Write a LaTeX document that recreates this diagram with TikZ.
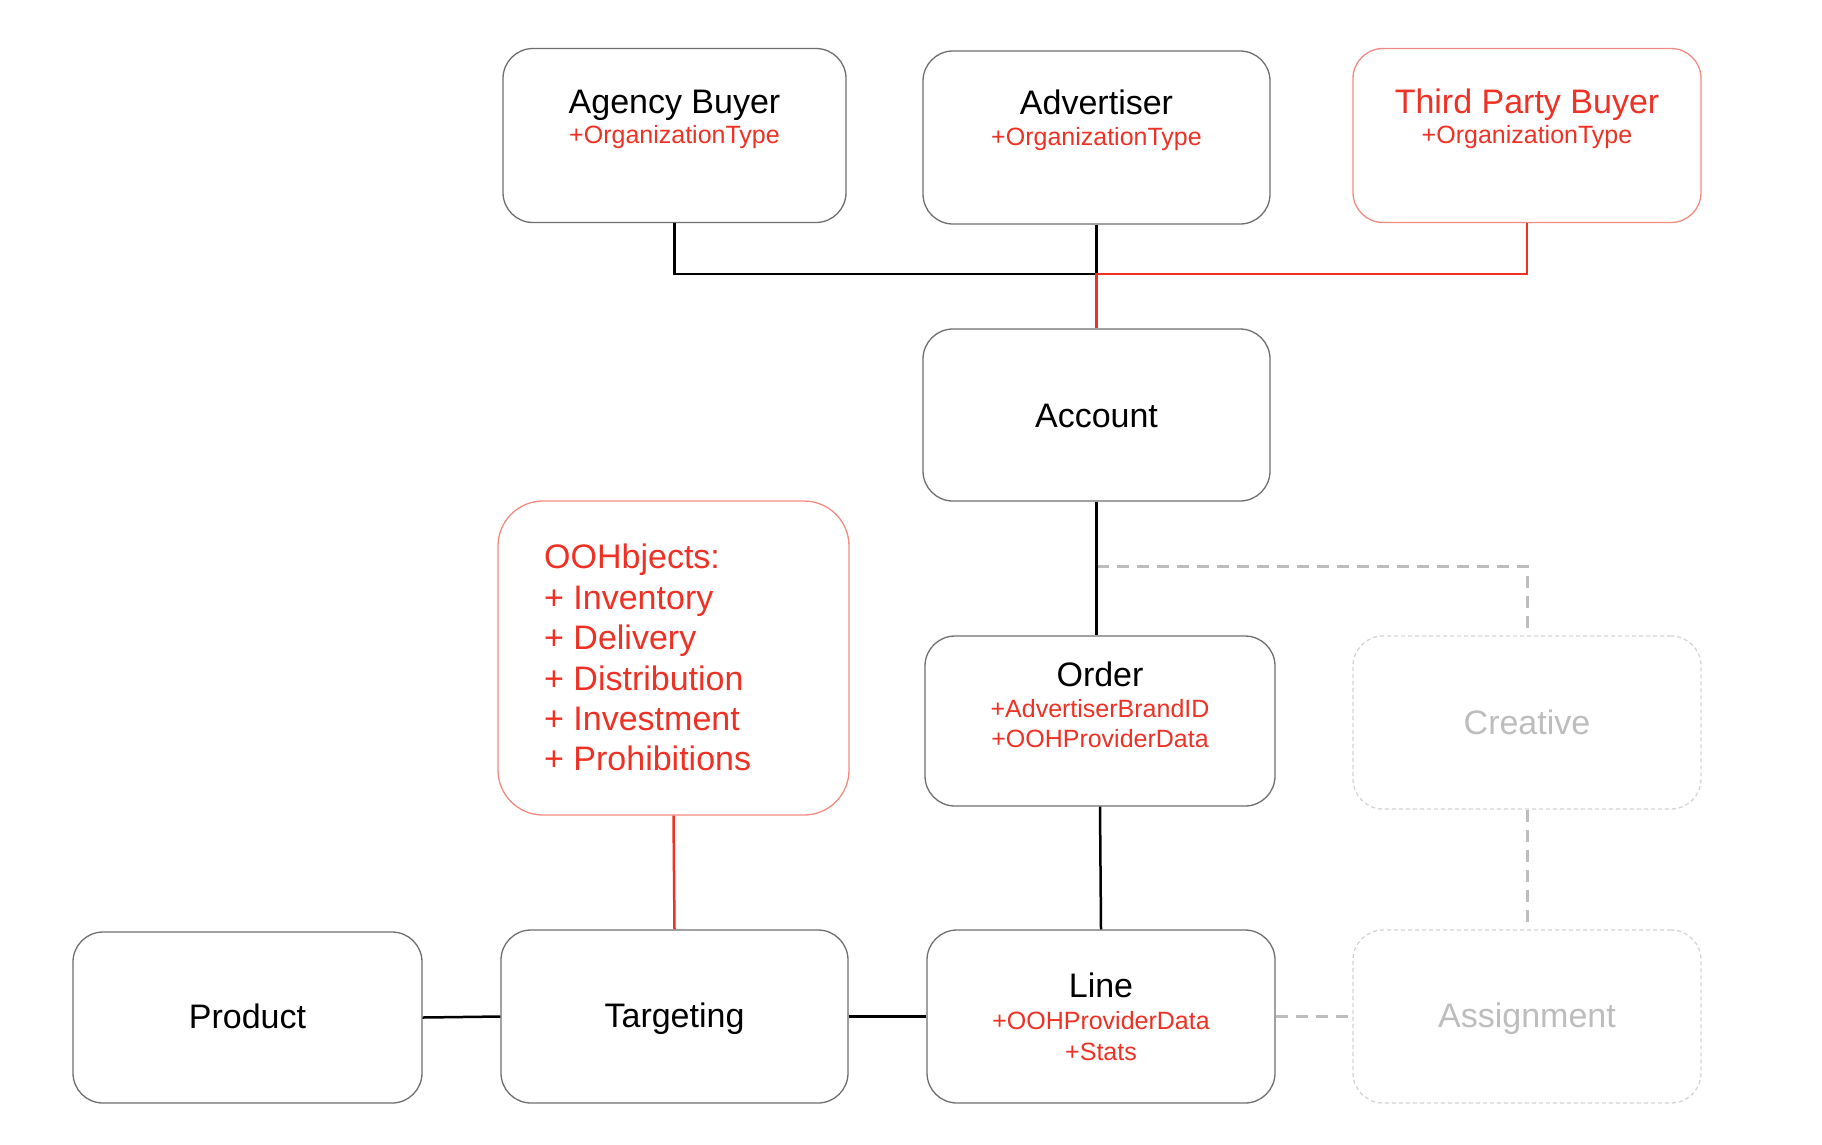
\documentclass[tikz,border=0pt]{standalone}
\usepackage{fontspec}
\setmainfont{Liberation Sans}
\definecolor{ored}{HTML}{EE3124}
\definecolor{oredbox}{HTML}{F28A80}
\definecolor{ogray}{HTML}{BDBDBD}
\definecolor{olightgray}{HTML}{D4D4D4}
\definecolor{oboxgray}{HTML}{6E6E6E}
\begin{document}
\begin{tikzpicture}[x=1pt,y=-1pt,
  box/.style={draw=oboxgray, line width=1.3pt, rounded corners=30pt, inner sep=0pt},
  redbox/.style={draw=oredbox, line width=1.3pt, rounded corners=30pt, inner sep=0pt},
  graybox/.style={draw=olightgray, line width=1.3pt, dash pattern=on 4pt off 3pt, rounded corners=30pt, inner sep=0pt},
  titletext/.style={font=\fontsize{34}{40}\selectfont, anchor=base, inner sep=0pt},
  subtext/.style={font=\fontsize{25}{30}\selectfont, text=ored, anchor=base, inner sep=0pt},
  oohtext/.style={font=\fontsize{34}{40}\selectfont, text=ored, anchor=base west, inner sep=0pt},
  conn/.style={line width=2.5pt, black},
  redconn/.style={line width=2.5pt, ored},
  dashconn/.style={line width=3pt, ogray, dash pattern=on 12pt off 8pt}
]
\useasboundingbox (0,0) rectangle (1822,1144);

% boxes
\node[box, minimum width=343, minimum height=174] (agency) at (674.5,135.5) {};
\node[box, minimum width=347, minimum height=173] (advertiser) at (1096.5,137.5) {};
\node[redbox, minimum width=348, minimum height=174] (third) at (1527,135.5) {};
\node[box, minimum width=347, minimum height=172] (account) at (1096.5,415) {};
\node[redbox, rounded corners=45pt, minimum width=351, minimum height=314] (ooh) at (673.5,658) {};
\node[box, minimum width=350, minimum height=170] (order) at (1100,721) {};
\node[graybox, minimum width=348, minimum height=173] (creative) at (1527,722.5) {};
\node[box, minimum width=348, minimum height=173] (line) at (1101,1016.5) {};
\node[graybox, minimum width=348, minimum height=173] (assign) at (1527,1016.5) {};
\node[box, minimum width=349, minimum height=171] (product) at (247.5,1017.5) {};
\node[box, minimum width=347, minimum height=173] (targeting) at (674.5,1016.5) {};

% texts
\node[titletext] (tagency) at (674.5,113) {Agency Buyer};
\node[subtext] (sagency) at (674.5,143) {+OrganizationType};
\node[titletext] (tadvertiser) at (1096.5,114) {Advertiser};
\node[subtext] (sadvertiser) at (1096.5,145) {+OrganizationType};
\node[titletext, text=ored] (tthird) at (1527,113) {Third Party Buyer};
\node[subtext] (sthird) at (1527,143) {+OrganizationType};
\node[titletext] (taccount) at (1096.5,427) {Account};
\node[oohtext] (ooh1) at (544,568) {OOHbjects:};
\node[oohtext] (ooh2) at (544,609) {+ Inventory};
\node[oohtext] (ooh3) at (544,649) {+ Delivery};
\node[oohtext] (ooh4) at (544,690) {+ Distribution};
\node[oohtext] (ooh5) at (544,730) {+ Investment};
\node[oohtext] (ooh6) at (544,770) {+ Prohibitions};
\node[titletext] (torder) at (1100,686) {Order};
\node[subtext] (sorder1) at (1100,717) {+AdvertiserBrandID};
\node[subtext] (sorder2) at (1100,747) {+OOHProviderData};
\node[titletext] (tline) at (1101,997) {Line};
\node[subtext] (sline1) at (1101,1029) {+OOHProviderData};
\node[subtext] (sline2) at (1101,1060) {+Stats};
\node[titletext, text=ogray] (tcreative) at (1527,734) {Creative};
\node[titletext, text=ogray] (tassign) at (1527,1027) {Assignment};
\node[titletext] (tproduct) at (247.5,1028) {Product};
\node[titletext] (ttargeting) at (674.5,1027) {Targeting};

% connectors
\coordinate (junc) at (1096.5,274);
\coordinate (djunc) at (1096.5,566);
\draw[conn] (agency.south) |- (junc);
\draw[conn] (advertiser.south) -- (junc);
\draw[redconn] (third.south) |- (junc) -- (account.north);
\draw[dashconn] (djunc) -| (creative.north);
\draw[conn] (account.south) -- (account.south |- order.north);
\draw[conn] (order.south) -- (line.north);
\draw[dashconn] (creative.south) -- (assign.north);
\draw[dashconn] (line.east) -- (assign.west);
\draw[conn] (product.east) -- (targeting.west);
\draw[conn] (targeting.east) -- (line.west);
\draw[redconn] (ooh.south) -- (targeting.north);
\end{tikzpicture}
\end{document}
